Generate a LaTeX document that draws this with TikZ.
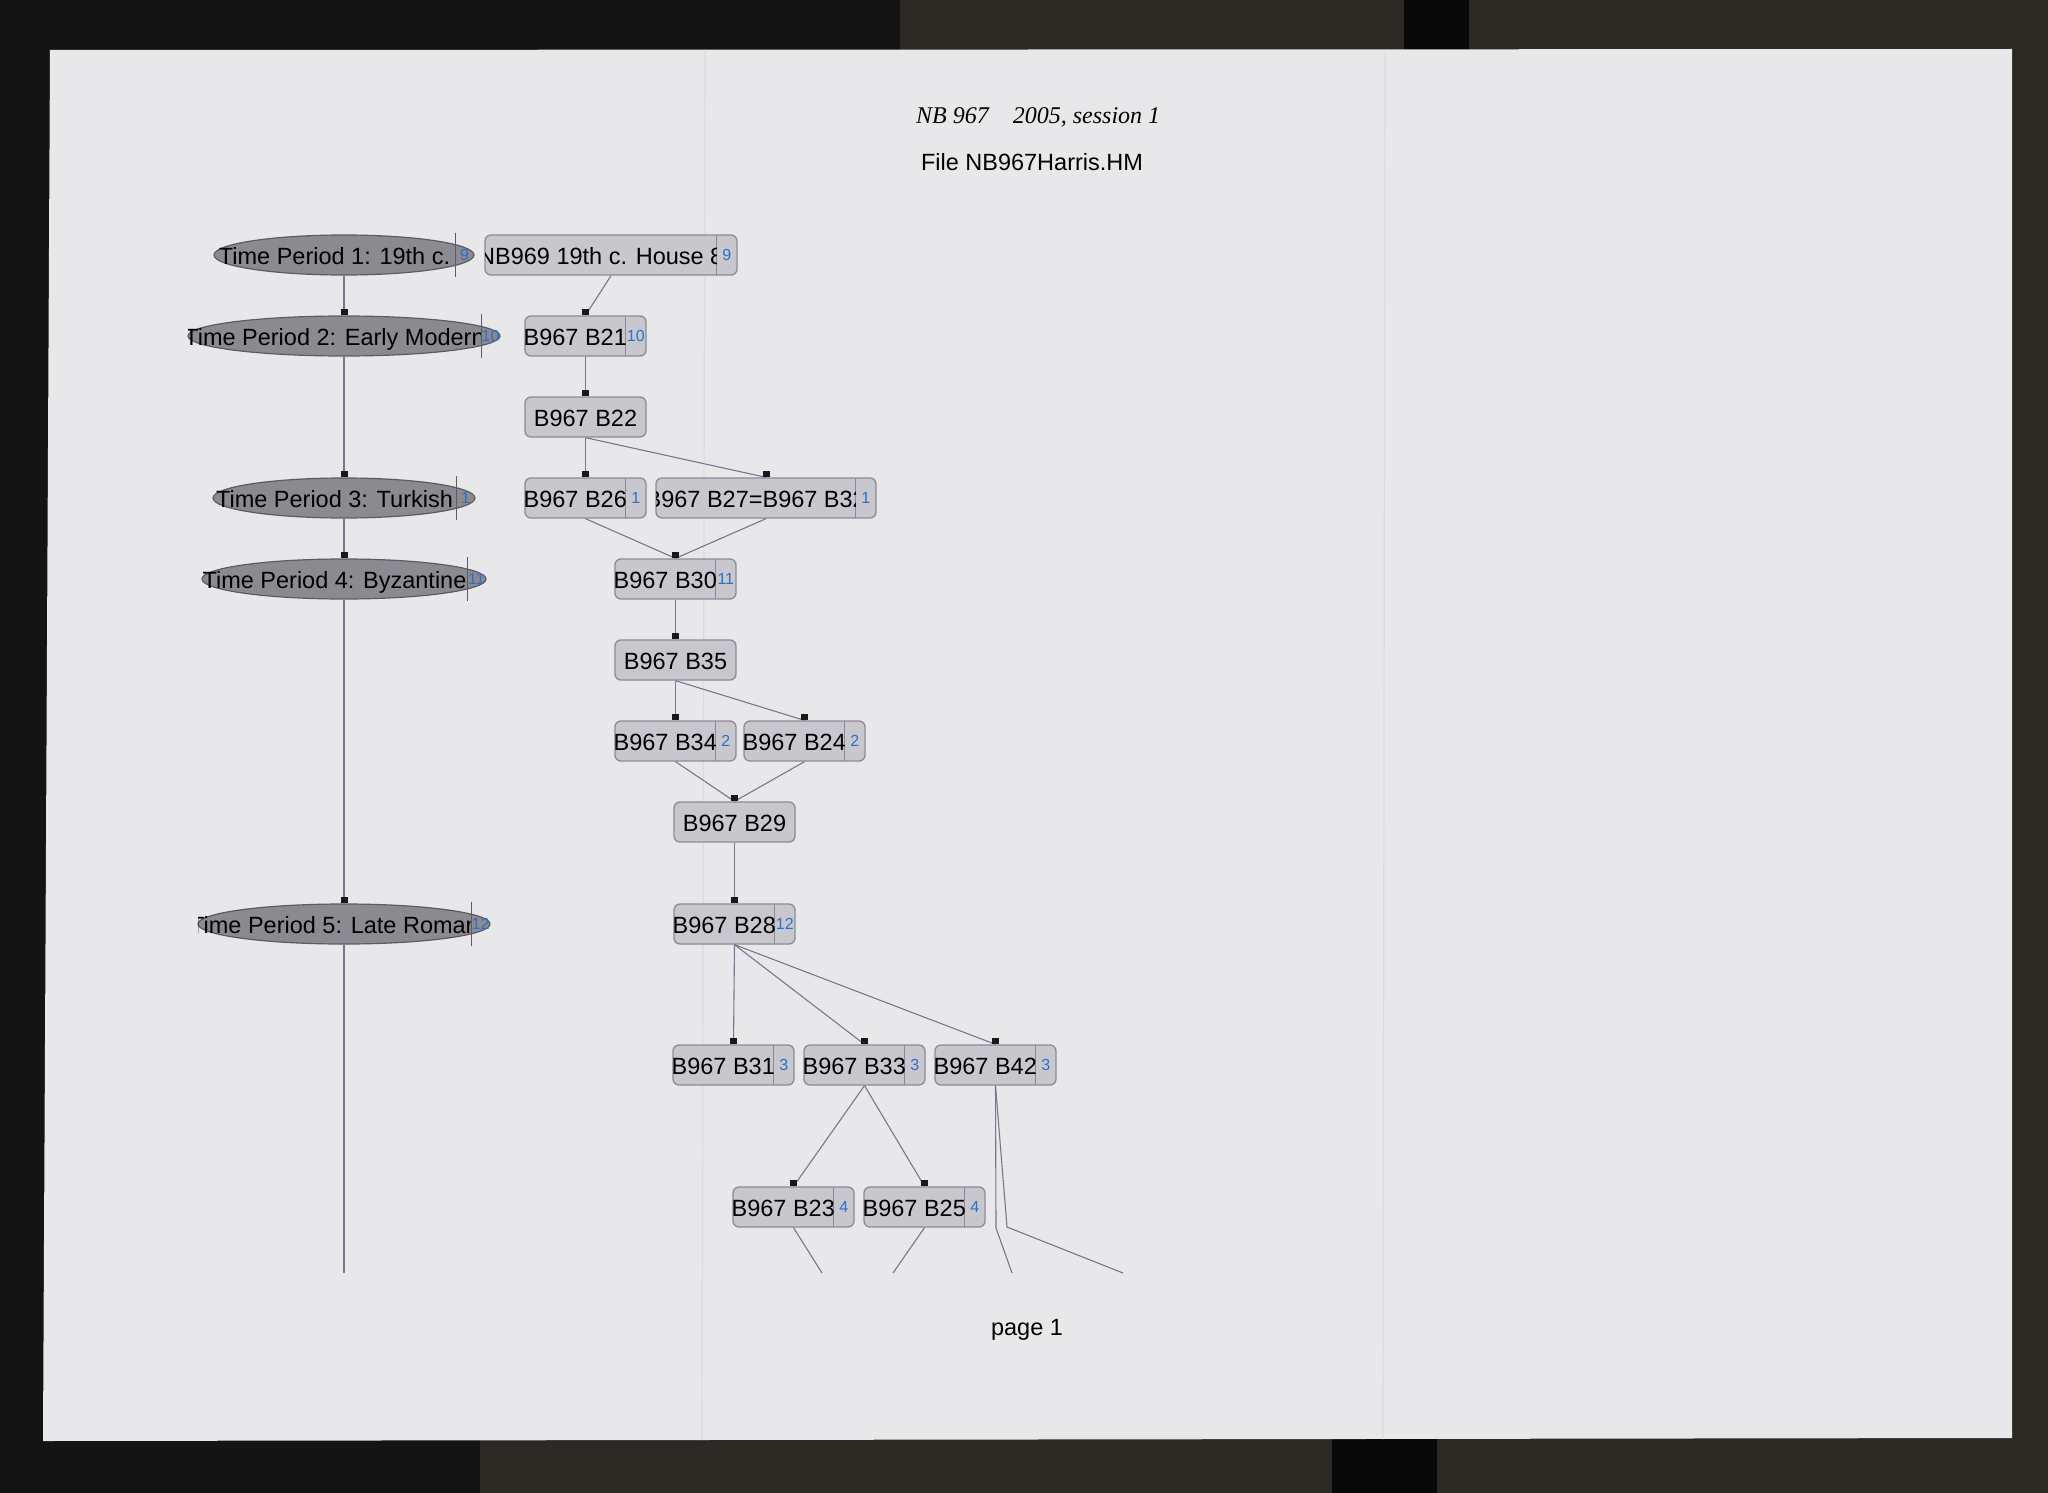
\documentclass[tikz,border=0pt]{standalone}
\usepackage{fontspec}
\setmainfont{Liberation Sans}
\newfontfamily\handfont{Liberation Serif}
\usetikzlibrary{shapes.geometric}

\definecolor{desk}{HTML}{141414}
\definecolor{deskgrain}{HTML}{2C2925}
\definecolor{binding}{HTML}{080808}
\definecolor{paper}{HTML}{E8E8EA}
\definecolor{foldline}{HTML}{DCDCE0}
\definecolor{boxfill}{HTML}{C8C7CD}
\definecolor{boxline}{HTML}{8D8A97}
\definecolor{perfill}{HTML}{8B8A90}
\definecolor{perline}{HTML}{5E5A64}
\definecolor{linkcol}{HTML}{7A7690}
\definecolor{numblue}{HTML}{2A6FCB}

\tikzset{
  unit/.style={draw=boxline, fill=boxfill, rounded corners=6pt, line width=1.3pt,
    minimum height=40pt, inner sep=0pt},
  period/.style={ellipse, draw=perline, fill=perfill, line width=1.2pt,
    minimum height=40pt, inner sep=0pt},
  labeltext/.style={inner sep=0pt, anchor=base, font=\fontsize{23.5}{28}\selectfont},
  cellnum/.style={inner sep=0pt, anchor=base, text=numblue, font=\fontsize{16}{19}\selectfont},
  cellline/.style={draw=boxline, line width=1pt},
  link/.style={draw=linkcol, line width=1.1pt},
  mk/.pic={\fill[black!90] (-3.5,0) rectangle (3.5,-6);},
}

% name, left, right, y, text, number
\newcommand{\unitbox}[6]{%
  \node[unit, minimum width=#3-#2] (#1) at ({(#2+#3)/2},#4) {};
  \draw[cellline] ({#3-20.5},{#4-20}) -- ({#3-20.5},{#4+20});
  \begin{scope}
    \clip (#2,{#4-20}) rectangle ({#3-21},{#4+20});
    \node[labeltext] (#1t) at ({(#2+#3-20.5)/2},{#4+9.5}) {#5};
  \end{scope}
  \node[cellnum] (#1n) at ({#3-10.2},{#4+5.6}) {#6};
}
\newcommand{\plainbox}[5]{%
  \node[unit, minimum width=#3-#2] (#1) at ({(#2+#3)/2},#4) {};
  \node[labeltext] (#1t) at ({(#2+#3)/2},{#4+9.5}) {#5};
}
\newcommand{\period}[6]{%
  \node[period, minimum width=#3-#2] (#1) at ({(#2+#3)/2},#4) {};
  \draw[cellline, draw=perline] ({#3-19},{#4-22}) -- ({#3-19},{#4+22});
  \begin{scope}
    \clip (#2,{#4-22}) rectangle ({#3-19.5},{#4+22});
    \node[labeltext] (#1t) at ({(#2+#3-19)/2},{#4+9.5}) {#5};
  \end{scope}
  \node[cellnum] (#1n) at ({#3-9.5},{#4+5.6}) {#6};
}

\begin{document}
\begin{tikzpicture}[x=1pt, y=-1pt]
  \useasboundingbox (0,0) rectangle (2048,1493);
  \fill[desk] (0,0) rectangle (2048,1493);
  \fill[deskgrain] (900,0) rectangle (2048,50);
  \fill[deskgrain] (480,1438) rectangle (2048,1493);
  \fill[deskgrain] (2010,0) rectangle (2048,1493);
  \fill[binding] (1404,0) rectangle (1469,50);
  \fill[binding] (1332,1438) rectangle (1437,1493);
  \fill[paper] (50,50) -- (2012,49) -- (2012,1438) -- (43,1441) -- cycle;
  \draw[foldline, line width=1.2pt] (705,50) -- (702,1440);
  \draw[foldline, line width=1.2pt] (1385,50) -- (1383,1439);

  \node[inner sep=0pt, anchor=base west, font=\handfont\itshape\fontsize{24}{28}\selectfont]
    (hand) at (916,124) {NB 967\quad 2005, session 1};
  \node[labeltext] (file) at (1032,170) {File NB967Harris.HM};
  \node[labeltext] (page) at (1027,1335) {page 1};

  \period{tp1}{214}{474}{255}{Time Period 1: 19th c.}{9}
  \period{tp2}{188}{500}{336}{Time Period 2: Early Modern}{10}
  \period{tp3}{213}{475}{498}{Time Period 3: Turkish}{1}
  \period{tp4}{202}{486}{579}{Time Period 4: Byzantine}{11}
  \period{tp5}{198}{490}{924}{Time Period 5: Late Roman}{12}

  \unitbox{nb969}{485}{737}{255}{NB969 19th c. House 8}{9}
  \unitbox{b21}{525}{646}{336}{B967 B21}{10}
  \plainbox{b22}{525}{646}{417}{B967 B22}
  \unitbox{b26}{525}{646}{498}{B967 B26}{1}
  \unitbox{b27}{656}{876}{498}{B967 B27=B967 B32}{1}
  \unitbox{b30}{615}{736}{579}{B967 B30}{11}
  \plainbox{b35}{615}{736}{660}{B967 B35}
  \unitbox{b34}{615}{736}{741}{B967 B34}{2}
  \unitbox{b24}{744}{865}{741}{B967 B24}{2}
  \plainbox{b29}{674}{795}{822}{B967 B29}
  \unitbox{b28}{674}{795}{924}{B967 B28}{12}
  \unitbox{b31}{673}{794}{1065}{B967 B31}{3}
  \unitbox{b33}{804}{925}{1065}{B967 B33}{3}
  \unitbox{b42}{935}{1056}{1065}{B967 B42}{3}
  \unitbox{b23}{733}{854}{1207}{B967 B23}{4}
  \unitbox{b25}{864}{985}{1207}{B967 B25}{4}

  \coordinate (tpend) at (344,1273);
  \coordinate (b23end) at (822,1273);
  \coordinate (b25end) at (893,1273);
  \coordinate (b42a) at (996,1228);
  \coordinate (b42aend) at (1012,1273);
  \coordinate (b42b) at (1007,1227);
  \coordinate (b42bend) at (1123,1273);

  \begin{scope}[link]
    \draw (tp1.south) -- (tp2.north) pic {mk};
    \draw (tp2.south) -- (tp3.north) pic {mk};
    \draw (tp3.south) -- (tp4.north) pic {mk};
    \draw (tp4.south) -- (tp5.north) pic {mk};
    \draw (tp5.south) -- (tpend);
    \draw (nb969.south) -- (b21.north) pic {mk};
    \draw (b21.south) -- (b22.north) pic {mk};
    \draw (b22.south) -- (b26.north) pic {mk};
    \draw (b22.south) -- (b27.north) pic {mk};
    \draw (b26.south) -- (b30.north) pic {mk};
    \draw (b27.south) -- (b30.north) pic {mk};
    \draw (b30.south) -- (b35.north) pic {mk};
    \draw (b35.south) -- (b34.north) pic {mk};
    \draw (b35.south) -- (b24.north) pic {mk};
    \draw (b34.south) -- (b29.north) pic {mk};
    \draw (b24.south) -- (b29.north) pic {mk};
    \draw (b29.south) -- (b28.north) pic {mk};
    \draw (b28.south) -- (b31.north) pic {mk};
    \draw (b28.south) -- (b33.north) pic {mk};
    \draw (b28.south) -- (b42.north) pic {mk};
    \draw (b33.south) -- (b23.north) pic {mk};
    \draw (b33.south) -- (b25.north) pic {mk};
    \draw (b23.south) -- (b23end);
    \draw (b25.south) -- (b25end);
    \draw (b42.south) -- (b42a) -- (b42aend);
    \draw (b42.south) -- (b42b) -- (b42bend);
  \end{scope}
\end{tikzpicture}
\end{document}
